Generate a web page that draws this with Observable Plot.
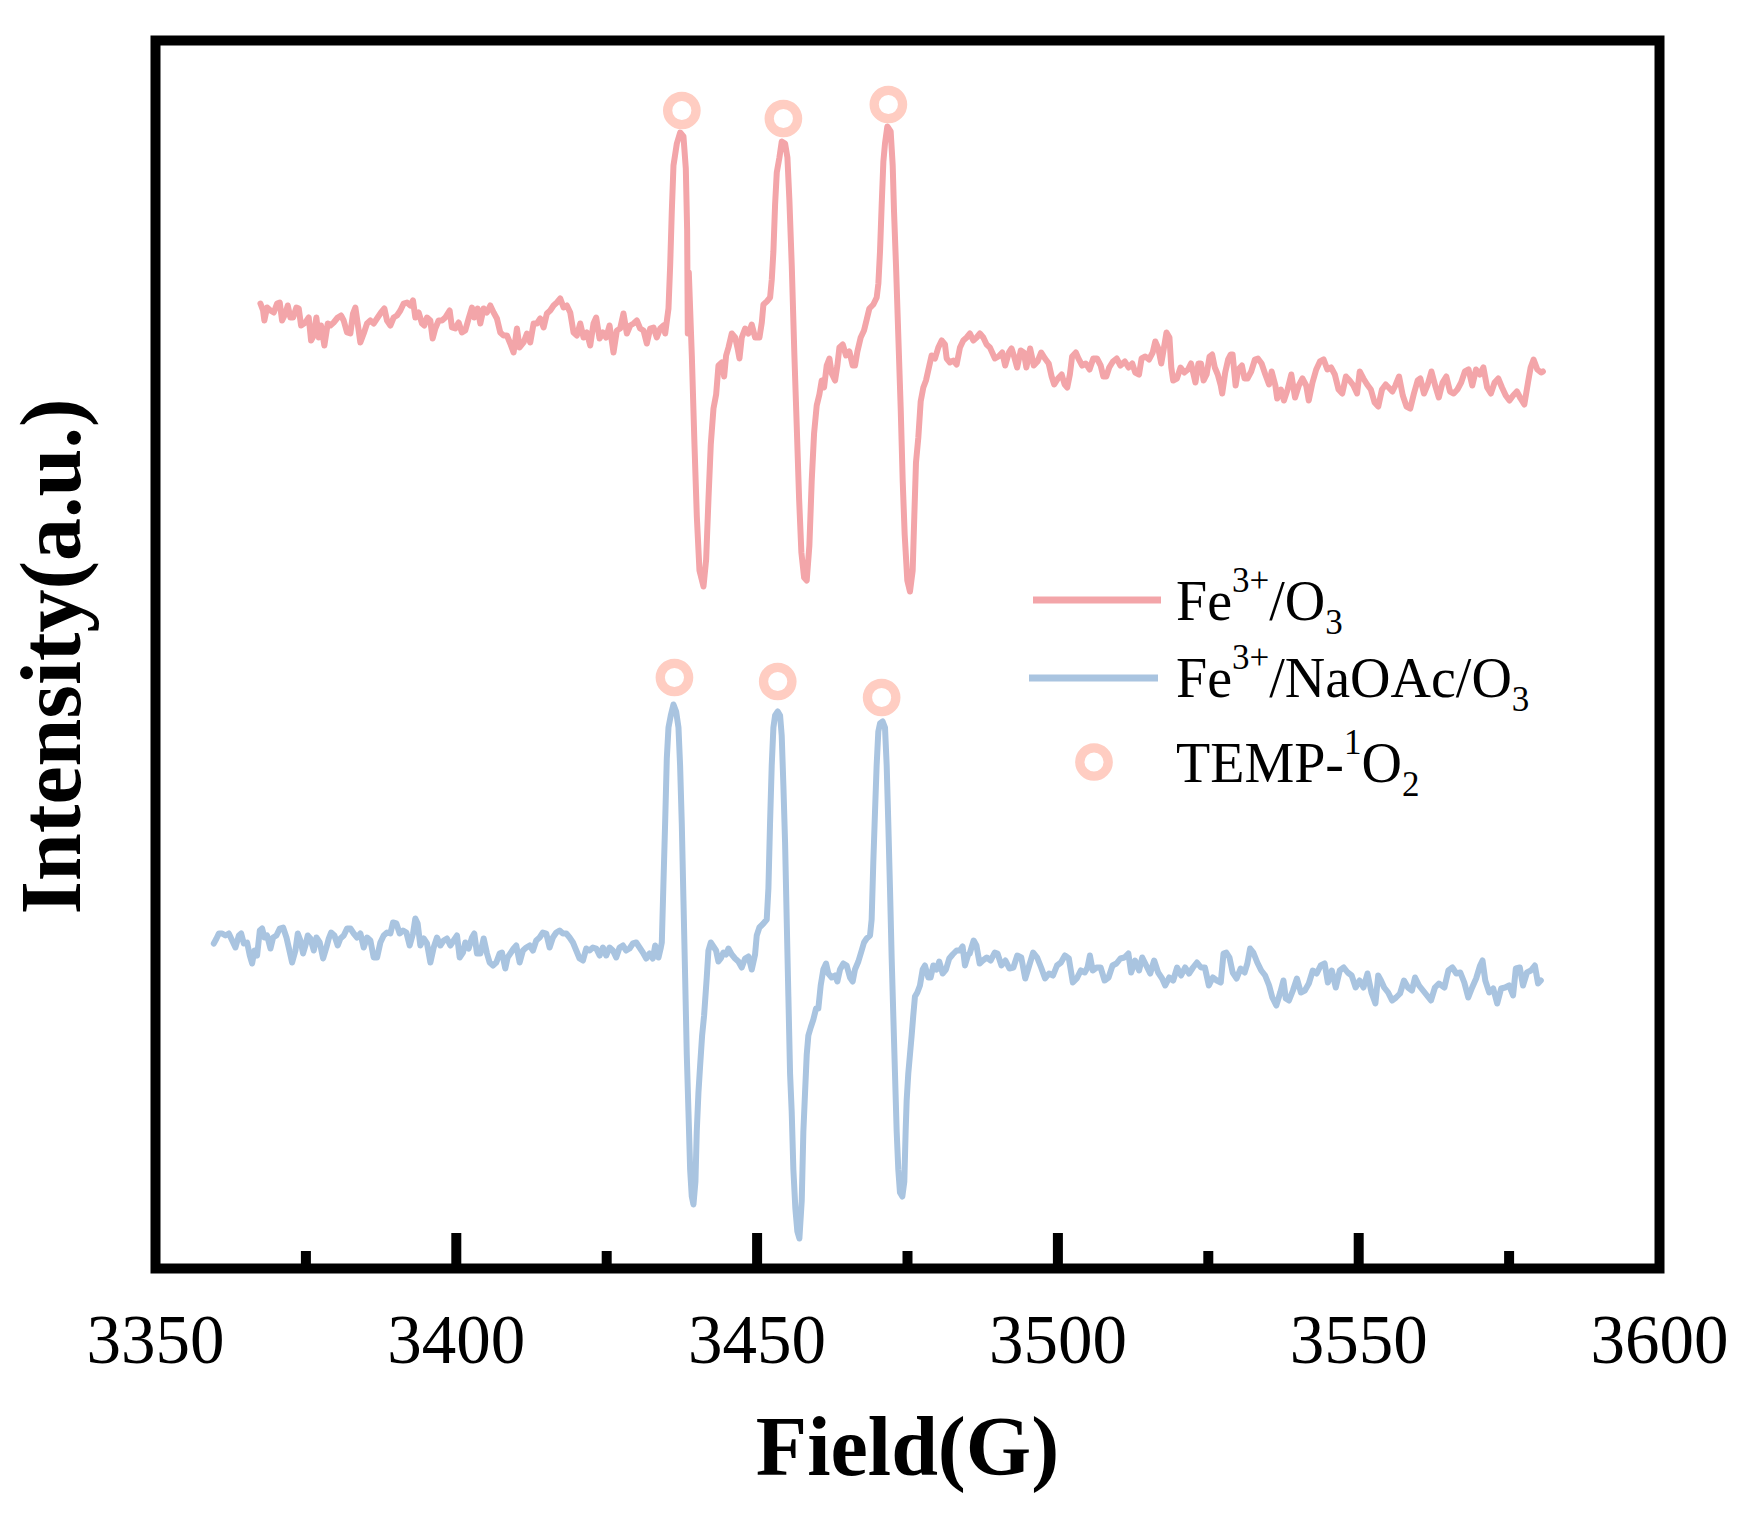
<!DOCTYPE html>
<html>
<head>
<meta charset="utf-8">
<script src="https://cdn.jsdelivr.net/npm/d3@7"></script>
<script src="https://cdn.jsdelivr.net/npm/@observablehq/plot@0.6"></script>
<style>
  html, body { margin: 0; padding: 0; background: #ffffff; }
  #chart svg { display: block; }
</style>
</head>
<body>
<div id="chart"></div>
<script>
// ---------------- DATA ----------------
const redField = [
3367.44,3367.88,3368.10,3368.55,3369.10,3369.66,3370.21,3370.65,3371.04,3371.59,3371.98,3372.42,3372.87,3373.42,3373.81,3374.20,3374.92,3375.47,3375.86,3376.30,
3376.74,3377.13,3377.52,3378.07,3378.63,3379.07,3379.62,3380.29,3380.84,3381.28,3381.84,3382.39,3382.83,3383.22,3383.61,3384.05,3384.61,3385.16,3385.71,3386.27,
3386.93,3387.49,3388.04,3388.48,3389.04,3389.59,3390.14,3390.70,3391.25,3391.80,3392.36,3392.80,3393.19,3393.74,3394.30,3394.68,3395.13,3395.68,3396.07,3396.51,
3397.06,3397.62,3398.17,3398.89,3399.28,3399.83,3400.39,3400.94,3401.49,3402.05,3402.60,3402.99,3403.54,3403.99,3404.54,3405.09,3405.65,3406.20,3406.75,3407.31,
3407.86,3408.42,3408.97,3409.52,3410.08,3410.52,3411.18,3411.74,3412.29,3412.85,3413.40,3413.95,3414.51,3415.06,3415.61,3416.17,3416.72,3417.28,3417.83,3418.38,
3418.94,3419.49,3420.04,3420.60,3421.15,3421.70,3422.26,3422.81,3423.25,3423.81,3424.36,3424.91,3425.47,3426.13,3426.69,3427.24,3427.79,3428.35,3428.90,3429.46,
3430.01,3430.56,3431.12,3431.67,3432.23,3432.78,3433.33,3433.89,3434.44,
3434.72,3435.27,3435.55,3435.82,3436.10,3436.66,3437.21,3437.76,3438.15,3438.37,3438.48,3438.65,3439.15,3439.59,3439.98,3440.42,3441.09,3441.53,3441.92,3442.30,
3442.75,3443.19,3443.58,3444.13,3444.52,3444.85,3445.24,3445.79,3446.35,3446.73,3447.07,3447.45,3448.01,3448.56,3449.11,3449.67,3450.39,3450.78,3451.05,3451.61,
3452.16,3452.44,3452.71,3452.99,3453.27,3453.71,3454.10,3454.65,3455.04,3455.37,3455.76,3456.20,3456.59,3456.98,3457.36,3457.81,3458.25,3458.69,3459.08,3459.47,
3459.91,3460.35,3460.74,3461.13,3461.57,3462.02,3462.40,3462.96,3463.34,3463.68,3464.23,3464.79,3465.34,3465.89,3466.28,3466.67,3467.22,3467.77,3468.22,3468.66,
3469.32,3469.88,3470.16,3470.43,3470.71,3470.99,3471.26,3471.65,3472.20,3472.54,3472.76,3473.09,3473.48,3473.87,3474.20,3474.53,3474.97,3475.41,3475.86,3476.13,
3476.41,3476.80,3477.19,3477.63,3478.07,3478.63,3479.01,3479.57,3480.12,3480.68,3481.23,3481.51,3482.06,3482.61,3483.17,3483.72,3484.27,3484.83,3485.38,3485.94,
3486.49,3487.04,3487.60,3488.15,3488.70,3489.53,
3490.13,3490.75,3491.24,3491.86,3492.29,3492.72,3493.22,3493.83,3494.33,3494.76,3495.38,3495.99,3496.61,3497.23,3497.85,3498.47,3498.96,3499.39,3500.01,3500.63,
3501.12,3501.56,3501.99,3502.36,3502.98,3503.41,3504.03,3504.64,3505.26,3505.88,3506.50,3507.11,3507.55,3508.04,3508.53,3509.15,3509.77,3510.39,3511.13,3511.75,
3512.36,3512.86,3513.48,3513.91,3514.53,3515.14,3515.76,3516.19,3516.69,3517.18,3517.61,3518.05,3518.54,3518.85,3519.16,3519.78,3520.39,3521.01,3521.63,3522.12,
3522.56,3522.86,3523.36,3523.79,3524.22,3524.72,3525.21,3525.64,3526.08,3526.57,3527.07,3527.31,3527.81,3528.30,3528.73,3529.04,3529.54,3529.97,3530.59,3531.02,
3531.51,3532.13,3532.75,3533.24,3533.86,3534.48,3535.10,3535.53,3536.15,3536.45,3537.07,3537.57,3538.18,3538.80,3539.42,3540.04,3540.65,3541.27,3541.70,3542.32,
3542.94,3543.56,3544.17,3544.79,3545.41,3546.03,3546.65,3547.26,3547.88,3548.50,3549.12,3549.73,3550.17,3550.78,3551.40,3552.02,3552.64,3553.25,3553.87,3554.49,
3554.98,3555.60,3556.10,3556.71,3557.33,3557.95,3558.57,3559.18,3559.80,3560.24,3560.85,3561.47,3562.09,3562.71,3563.32,3563.94,3564.56,3565.18,3565.79,3566.41,
3567.03,3567.65,3568.26,3568.88,3569.50,3570.12,3570.73,3571.35,3571.97,3572.59,3573.20,3573.82,3574.44,3575.06,3575.67,3576.29,3576.91,3577.53,3578.14,3578.58,
3579.07,3579.69,3580.31,3580.62
];
const redIntensity = [
965,958,948,961,958,956,965,966,948,955,963,951,951,961,960,943,946,951,928,933,
951,931,943,923,945,943,946,951,953,948,936,935,955,961,945,926,935,945,948,945,
951,956,960,948,943,951,953,958,965,966,963,968,951,956,945,943,951,948,930,940,
948,948,951,958,941,940,946,936,938,950,961,951,960,945,960,956,963,956,950,936,
933,933,925,916,940,921,926,935,926,945,945,950,941,955,958,963,966,970,961,963,
956,936,933,945,931,936,923,945,951,930,936,931,943,916,938,940,955,935,943,945,
948,940,938,925,940,941,931,940,943,
935,960,1003,1057,1103,1125,1136,1132,1100,1039,935,996,913,824,752,698,682,709,770,824,
860,874,903,906,892,913,921,935,931,921,910,931,940,935,944,931,931,946,964,967,
971,989,1017,1064,1096,1111,1127,1125,1111,1068,1003,913,842,770,716,691,688,723,788,835,
863,874,888,881,903,910,895,888,903,921,924,913,917,903,903,917,931,938,949,960,
964,971,985,1017,1064,1107,1125,1142,1137,1103,1057,1003,931,860,788,734,688,677,698,752,
806,831,867,881,888,903,913,910,921,928,924,910,906,908,904,921,928,931,935,928,
931,935,931,924,921,910,
912,916,903,916,920,912,901,918,916,901,920,903,907,916,910,905,892,884,890,894,
884,881,894,912,916,910,903,905,899,910,910,903,892,892,901,907,910,903,907,901,
905,896,894,910,912,909,916,927,920,905,920,936,931,901,888,890,901,896,899,905,
894,886,905,905,888,894,912,914,901,894,883,875,896,909,914,914,883,899,903,890,
890,897,909,910,905,894,884,897,883,870,879,868,879,894,871,883,890,883,868,886,
899,907,909,899,901,894,879,875,892,888,883,875,897,890,884,879,866,862,879,884,
881,877,883,892,873,862,860,875,888,890,875,884,897,883,871,886,892,877,875,879,
886,897,899,883,899,894,901,881,875,886,890,881,873,868,873,877,870,864,886,901,
909,899,896,897
];

const blueField = [
3359.69,3360.14,3360.53,3361.08,3361.63,3362.19,3362.74,3363.29,3363.85,3364.24,3364.68,3365.23,3365.67,3366.06,3366.45,3366.89,3367.34,3367.72,3368.11,3368.55,
3369.11,3369.55,3370.10,3370.66,3371.21,3371.77,3372.15,3372.71,3373.26,3373.65,3374.09,3374.53,3374.92,3375.31,3375.75,3376.31,3376.75,3377.30,3377.86,3378.41,
3378.80,3379.19,3379.74,3380.29,3380.74,3381.29,3381.84,3382.40,3382.95,3383.50,3384.06,3384.61,3385.17,3385.72,3386.27,3386.83,3387.38,3387.93,3388.49,3389.04,
3389.48,3390.04,3390.59,3391.15,3391.70,3392.25,3392.81,3393.19,3393.58,3394.02,3394.58,3395.13,3395.69,3396.24,3396.79,3397.35,3397.90,3398.45,3399.01,3399.56,
3400.12,3400.56,3401.11,3401.50,3402.05,3402.61,3402.99,3403.44,3403.99,3404.55,3405.10,3405.54,3406.10,3406.65,3407.20,3407.59,3408.14,3408.53,3408.98,3409.53,
3409.97,3410.53,3411.08,3411.63,3412.19,3412.74,3413.29,3413.85,3414.40,3414.95,3415.51,3416.06,3416.62,3417.17,3417.72,3418.28,3418.83,3419.39,3419.94,3420.49,
3421.05,3421.60,3422.15,3422.71,3423.26,3423.82,3424.37,3424.92,3425.48,3426.03,3426.58,3427.14,3427.69,3428.24,3428.80,3429.35,3429.91,3430.46,3431.01,3431.57,
3432.12,3432.67,3433.06,3433.61,3434.00,
3434.16,3434.44,3434.71,3434.99,3435.27,3435.65,3436.10,3436.54,3436.93,3437.20,3437.48,3437.76,3438.04,3438.31,3438.59,3438.87,3439.14,3439.42,3439.75,3439.97,
3440.25,3440.53,3440.86,3441.19,3441.63,3441.91,3442.30,3442.74,3443.18,3443.57,3443.96,3444.40,3444.85,3445.23,3445.79,3446.34,3446.89,3447.45,3448.00,3448.56,
3449.11,3449.66,3449.94,3450.38,3451.05,3451.60,3451.88,3452.15,3452.43,3452.71,3452.99,3453.43,3453.82,3454.09,3454.37,3454.65,3454.92,3455.20,3455.48,3455.75,
3456.03,3456.36,3456.69,3457.03,3457.42,3457.69,3457.97,3458.25,3458.52,3458.91,3459.35,3459.80,3460.18,3460.57,3461.01,3461.46,3461.84,3462.40,3462.95,3463.34,
3463.78,3464.34,3464.89,3465.44,3465.89,3466.27,3466.83,3467.38,3467.77,3468.21,3468.77,3469.04,3469.32,3469.60,3469.87,3470.15,3470.43,3470.87,3471.26,3471.54,
3471.81,3472.09,3472.37,3472.64,3472.92,3473.20,3473.47,3473.75,3474.14,3474.47,3474.69,3474.86,3475.13,3475.41,3475.69,3475.96,3476.24,3476.63,3477.07,3477.52,
3477.90,3478.46,3478.84,3479.29,3479.84,3480.28,3480.84,3481.39,3481.94,3482.50,3483.16,3483.72,3484.16,3484.55,3485.10,
3485.34,3486.00,3486.46,3486.99,3487.52,3488.18,3488.84,3489.50,3489.96,3490.62,3491.28,3491.94,3492.60,3493.25,3493.91,3494.57,3495.23,3495.89,3496.55,3497.21,
3497.87,3498.53,3499.19,3499.85,3500.51,3501.16,3501.82,3502.48,3503.14,3503.80,3504.46,3504.92,3505.32,3505.78,3506.44,3507.10,3507.76,3508.42,3509.08,3509.73,
3510.39,3511.05,3511.71,3512.17,3512.83,3513.49,3514.02,3514.68,3515.34,3516.00,3516.66,3517.32,3517.84,3518.50,3519.16,3519.82,3520.48,3521.14,3521.80,3522.46,
3523.12,3523.78,3524.43,3525.09,3525.75,3526.41,3527.07,3527.53,3527.99,3528.52,3529.05,3529.71,3530.37,3531.03,3531.49,3531.95,3532.48,3533.14,3533.80,3534.45,
3535.11,3535.64,3536.30,3536.96,3537.49,3537.88,3538.41,3539.07,3539.73,3540.39,3541.05,3541.71,3542.37,3543.02,3543.68,3544.34,3544.87,3545.53,3546.19,3546.85,
3547.51,3548.17,3548.83,3549.49,3550.15,3550.80,3551.46,3552.12,3552.78,3553.24,3553.70,3554.23,3554.89,3555.55,3556.21,3556.87,3557.53,3558.19,3558.85,3559.37,
3560.03,3560.69,3561.35,3562.01,3562.67,3563.33,3563.79,3564.25,3564.91,3565.57,3566.23,3566.89,3567.55,3568.21,3568.86,3569.52,3570.18,3570.58,3571.04,3571.70,
3572.36,3573.02,3573.68,3574.34,3575.00,3575.66,3576.12,3576.78,3577.31,3577.97,3578.62,3579.28,3579.81,3580.27
];
const blueIntensity = [
325,330,335,335,333,335,328,321,333,335,325,326,313,305,318,313,338,340,331,333,
320,331,333,340,341,331,321,306,318,335,328,315,323,333,330,318,331,326,310,321,
330,336,333,323,330,333,340,340,335,331,335,321,331,328,311,311,326,333,336,335,
346,345,335,338,336,323,335,350,345,323,330,325,306,321,331,323,328,330,323,328,
333,311,316,326,320,331,335,315,315,330,315,306,303,306,315,316,300,311,315,320,
323,306,318,321,323,318,328,331,336,335,321,331,336,338,335,335,331,326,318,310,
308,320,318,321,320,313,321,313,321,318,311,321,323,318,320,325,326,321,316,310,
315,310,323,311,321,
326,387,445,510,541,553,564,557,541,503,445,368,291,214,157,99,72,64,87,137,
176,203,233,253,291,318,326,322,318,307,310,316,314,320,314,310,307,301,310,312,
299,314,333,341,345,349,380,445,503,541,553,557,553,533,483,426,349,272,195,157,
99,60,37,30,68,137,176,214,233,241,249,260,260,283,299,305,295,291,293,287,
299,305,303,291,287,299,307,318,326,330,333,349,407,457,503,537,545,547,541,503,
445,380,310,253,195,137,99,76,72,87,137,168,195,214,233,253,272,276,283,299,
303,291,291,303,299,307,295,299,310,314,318,318,322,303,314,
315,328,323,305,308,311,308,316,315,303,308,300,301,313,311,290,303,316,311,301,
290,295,293,303,306,313,310,286,290,298,296,301,313,298,301,301,288,291,303,305,
310,311,315,296,308,298,311,303,295,308,296,290,283,291,288,301,293,301,295,301,
306,301,301,283,291,288,286,315,316,311,296,290,300,296,305,320,316,306,298,293,
283,271,263,276,288,270,268,278,290,276,278,285,298,295,303,305,286,298,281,298,
301,296,293,281,288,281,295,276,265,293,288,281,276,268,271,275,288,281,278,291,
283,278,273,268,281,285,283,281,298,301,295,296,286,271,281,290,303,308,288,276,
280,265,280,281,283,273,300,301,283,296,298,303,285,288
];

// TEMP-1O2 marker positions (circle centres) above each peak
const redMarkerField = [3437.49, 3454.37, 3471.82];
const redMarkerIntensity = [1158, 1150, 1164];
const blueMarkerField = [3436.26, 3453.43, 3470.70];
const blueMarkerIntensity = [591, 587, 571];

// axis
const tickLabels = [3350, 3400, 3450, 3500, 3550, 3600];
const majorTicks = [3400, 3450, 3500, 3550];
const minorTicks = [3375, 3425, 3475, 3525, 3575];

// legend
const seriesNames = [
  [["Fe", ""], ["3+", "sup"], ["/O", ""], ["3", "sub"]],
  [["Fe", ""], ["3+", "sup"], ["/NaOAc/O", ""], ["3", "sub"]],
  [["TEMP-", ""], ["1", "sup"], ["O", ""], ["2", "sub"]]
];

// ---------------- STYLE ----------------
const RED = "#F3A5A9";
const BLUE = "#A9C4E0";
const RING = "#FFCDC2";
const FONT = "'Liberation Serif', 'Times New Roman', Times, serif";

const W = 1756, H = 1519;
const mL = 155, mR = 97, mT = 40, mB = 251;
const innerH = H - mT - mB;

const red = redField.map((f, i) => ({field: f, intensity: redIntensity[i]}));
const blue = blueField.map((f, i) => ({field: f, intensity: blueIntensity[i]}));
const markers = redMarkerField.map((f, i) => ({field: f, intensity: redMarkerIntensity[i]}))
  .concat(blueMarkerField.map((f, i) => ({field: f, intensity: blueMarkerIntensity[i]})));

const plot = Plot.plot({
  width: W,
  height: H,
  marginLeft: mL,
  marginRight: mR,
  marginTop: mT,
  marginBottom: mB,
  style: {background: "#ffffff", fontFamily: FONT, color: "#000000", overflow: "visible"},
  x: {domain: [3350, 3600]},
  y: {domain: [0, innerH], axis: null},
  marks: [
    Plot.line(red, {x: "field", y: "intensity", stroke: RED, strokeWidth: 6, strokeLinejoin: "round", strokeLinecap: "round"}),
    Plot.line(blue, {x: "field", y: "intensity", stroke: BLUE, strokeWidth: 6, strokeLinejoin: "round", strokeLinecap: "round"}),
    Plot.dot(markers, {x: "field", y: "intensity", r: 14.2, stroke: RING, strokeWidth: 9.3, fill: "#ffffff"}),
    Plot.ruleX(majorTicks, {x: d => d, insetTop: innerH - 35, stroke: "#000", strokeWidth: 10, strokeLinecap: "butt"}),
    Plot.ruleX(minorTicks, {x: d => d, insetTop: innerH - 17, stroke: "#000", strokeWidth: 10, strokeLinecap: "butt"}),
    Plot.frame({stroke: "#000", strokeWidth: 10}),
    Plot.axisX(tickLabels, {tickSize: 0, tickPadding: 45, fontSize: 69, tickFormat: d => String(d), label: null, fill: "#000"}),
    Plot.text(["Field(G)"], {text: d => d, frameAnchor: "bottom", textAnchor: "middle", lineAnchor: "bottom", dy: 206, fontSize: 84, fontWeight: "bold", fill: "#000"}),
    Plot.text(["Intensity(a.u.)"], {text: d => d, frameAnchor: "left", textAnchor: "middle", rotate: -90, lineAnchor: "bottom", dx: -76, dy: 2, fontSize: 86, fontWeight: "bold", fill: "#000"})
  ]
});

// ---------------- LEGEND (inside the plot) ----------------
const svg = d3.select(plot);
const lg = svg.append("g")
  .attr("font-family", FONT)
  .attr("font-size", 56)
  .attr("fill", "#000")
  .attr("text-anchor", "start")
  .style("text-anchor", "start");
const legendColors = [RED, BLUE, RING];
const rowBaselines = [620, 697, 782];
const rowMarkY = [600, 678, 762];

// line samples
lg.append("line").attr("x1", 1033).attr("x2", 1161).attr("y1", rowMarkY[0]).attr("y2", rowMarkY[0])
  .attr("stroke", legendColors[0]).attr("stroke-width", 7);
lg.append("line").attr("x1", 1029).attr("x2", 1158).attr("y1", rowMarkY[1]).attr("y2", rowMarkY[1])
  .attr("stroke", legendColors[1]).attr("stroke-width", 7);
lg.append("circle").attr("cx", 1094).attr("cy", rowMarkY[2]).attr("r", 14.2)
  .attr("fill", "#fff").attr("stroke", legendColors[2]).attr("stroke-width", 9.3);

seriesNames.forEach((parts, i) => {
  const t = lg.append("text").attr("x", 1176).attr("y", rowBaselines[i]).attr("text-anchor", "start");
  let shift = 0;
  parts.forEach(([s, kind]) => {
    const target = kind === "sup" ? -28 : kind === "sub" ? 14 : 0;
    const ts = t.append("tspan").attr("dy", target - shift).text(s);
    if (kind) ts.attr("font-size", 35);
    shift = target;
  });
});

document.getElementById("chart").appendChild(plot);
</script>
</body>
</html>
